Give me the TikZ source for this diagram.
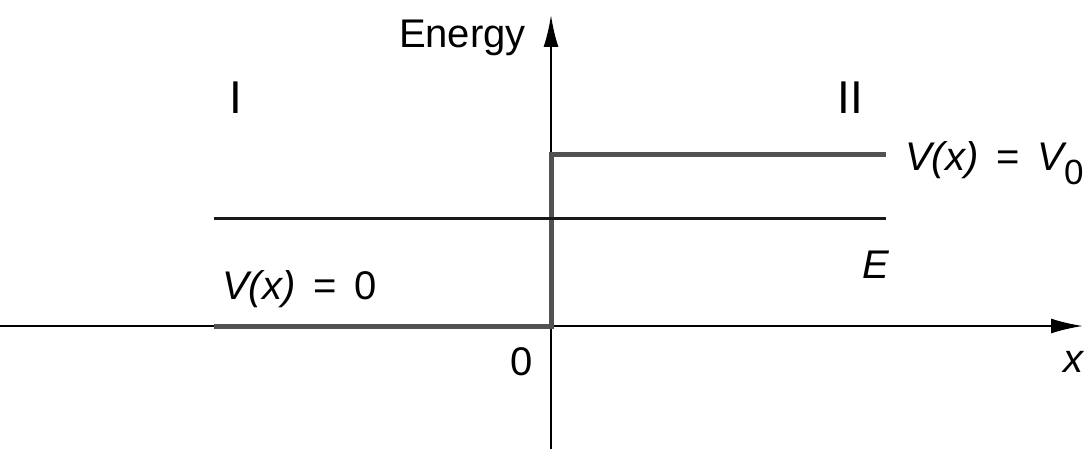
\documentclass[tikz,border=0pt]{standalone}
\usepackage{fontspec}
\setmainfont{Liberation Sans}
\usetikzlibrary{arrows.meta}
\begin{document}
\begin{tikzpicture}[x=1pt,y=-1pt,
  axis/.style={line width=2.2pt, -{Latex[length=32pt,width=15pt]}},
  pot/.style={line width=5pt, color=black!68},
  lvl/.style={line width=3pt, color=black!90},
  lbl/.style={font=\fontsize{40}{44}\selectfont, inner sep=0pt},
  big/.style={font=\fontsize{46}{48}\selectfont, inner sep=0pt}]
\useasboundingbox (0,0) rectangle (1089,449);
% axes
\coordinate (xl) at (0,326);
\coordinate (xr) at (1083,326);
\coordinate (yb) at (551,449);
\coordinate (yt) at (551,15);
\draw[axis] (xl) -- (xr);
\draw[axis] (yb) -- (yt);
% potential
\coordinate (p0) at (214,326);
\coordinate (p1) at (551,326);
\coordinate (p2) at (551,155);
\coordinate (p3) at (886,155);
\draw[pot, line join=miter] (p0) -- (p1) -- (p2) -- (p3);
% energy level
\coordinate (e0) at (214,218);
\coordinate (e1) at (886,218);
\draw[lvl] (e0) -- (e1);
% labels
\node[lbl, anchor=base east] (energy) at (526,48) {Energy};
\node[big, anchor=base] (r1) at (236,114) {I};
\node[big, anchor=base] (r2) at (850,114) {II};
\node[lbl, anchor=base west] (v0) at (905,171) {\itshape V(x)\, {\upshape =}\, V\raisebox{-0.34em}{\upshape\fontsize{35}{35}\selectfont 0}};
\node[lbl, anchor=base west] (en) at (862,278) {\itshape E};
\node[lbl, anchor=base west] (vz) at (222,299) {\itshape V(x)\, {\upshape =}\, {\upshape 0}};
\node[lbl, anchor=base] (zero) at (522,375) {0};
\node[lbl, anchor=base] (xlab) at (1073,372) {\itshape x};
\end{tikzpicture}
\end{document}
